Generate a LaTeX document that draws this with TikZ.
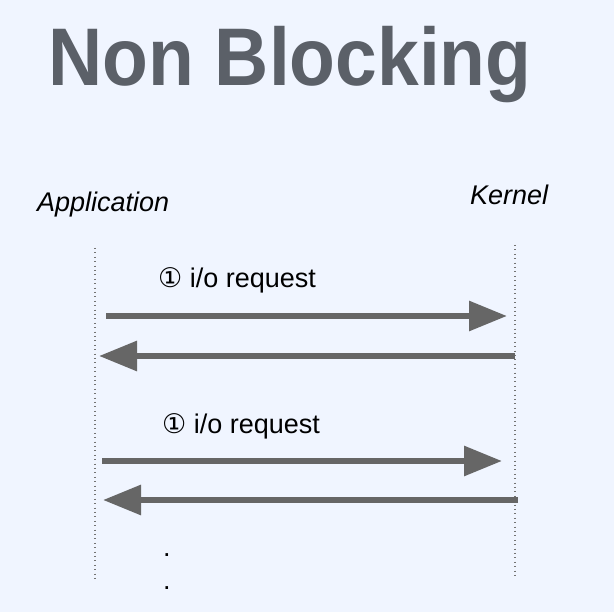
\documentclass[tikz,border=0pt]{standalone}
\usepackage{fontspec}
\setmainfont{Liberation Sans}
\newfontfamily\symfont{DejaVu Sans}
\usetikzlibrary{positioning,arrows.meta}
\usepackage{xcolor}
\definecolor{bgblue}{HTML}{F0F5FF}
\definecolor{titlegray}{HTML}{5B6068}
\definecolor{arrowgray}{HTML}{666666}

\tikzset{
  lifeline/.style={line width=1.7pt,draw=gray!90!black,dash pattern=on 1pt off 3.4pt},
  msg/.style={line width=6pt,draw=arrowgray,-{Triangle[length=38pt,width=29pt]}},
  role/.style={font=\itshape\fontsize{27}{31}\selectfont,inner sep=0pt,anchor=base west},
  reqlabel/.style={font=\fontsize{27}{31}\selectfont,inner sep=0pt,anchor=base west}
}

\begin{document}
\begin{tikzpicture}[x=1pt,y=-1pt]
\fill[bgblue] (0,0) rectangle (614,612);
\useasboundingbox (0,0) rectangle (614,612);
\node[font=\bfseries\fontsize{75}{85}\selectfont,text=titlegray,inner sep=0pt,anchor=base] (title) at (290,86) {\scalebox{1}[1.09]{Non Blocking}};
\node[role] (app) at (37,212) {Application};
\node[role] (kern) at (470,205) {Kernel};
% lifelines
\coordinate (appTop) at (95,248);
\coordinate (appBot) at (95,582);
\coordinate (kernTop) at (515,245);
\coordinate (kernBot) at (515,578);
\draw[lifeline] (appTop) -- (appBot);
\draw[lifeline] (kernTop) -- (kernBot);
% first round
\coordinate (r1a) at (106,316);
\coordinate (r1b) at (507,316);
\coordinate (r2a) at (515,356);
\coordinate (r2b) at (99,356);
\node[reqlabel] (req1) at (158,288) {{\symfont ①} i/o request};
\draw[msg] (r1a) -- (r1b);
\draw[msg] (r2a) -- (r2b);
% second round
\coordinate (r3a) at (102,461);
\coordinate (r3b) at (502,461);
\coordinate (r4a) at (518,500);
\coordinate (r4b) at (103,500);
\node[reqlabel] (req2) at (162,434) {{\symfont ①} i/o request};
\draw[msg] (r3a) -- (r3b);
\draw[msg] (r4a) -- (r4b);
% more to come
\node[reqlabel] (dot1) at (163,557) {.};
\node[reqlabel] (dot2) at (163,590) {.};
\end{tikzpicture}
\end{document}
